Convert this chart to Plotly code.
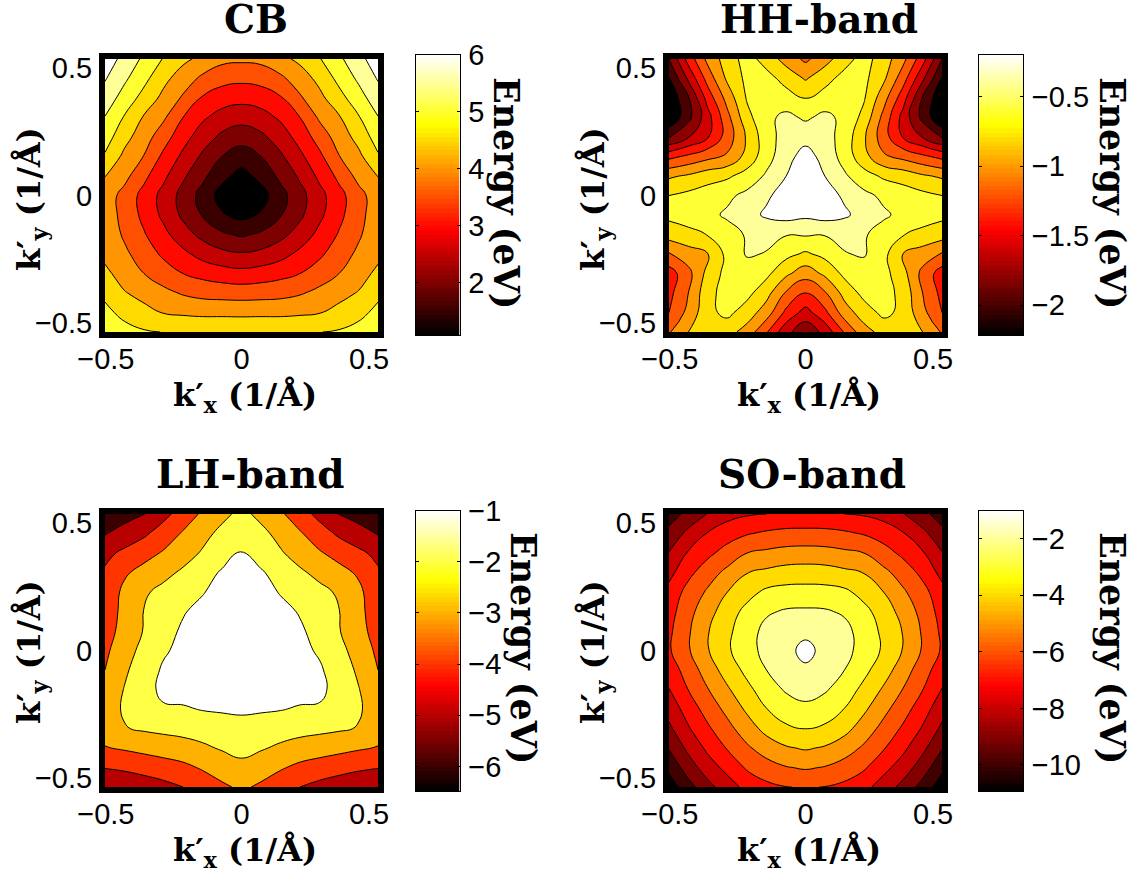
import plotly.graph_objects as go
import numpy as np

WIDTH, HEIGHT = 1137, 875

KX = [-0.535, -0.459, -0.382, -0.306, -0.229, -0.153, -0.076, 0.0,
      0.076, 0.153, 0.229, 0.306, 0.382, 0.459, 0.535]
KY = [0.535, 0.459, 0.382, 0.306, 0.229, 0.153, 0.076, 0.0,
      -0.076, -0.153, -0.229, -0.306, -0.382, -0.459, -0.535]

# Energies (eV): one row per KY, from kx = 0 out to kx = 0.535
# (the bands are mirror symmetric in kx).
CB_HALF = [
    [4.09, 4.13, 4.37, 4.61, 4.97, 5.40, 5.84, 6.28],
    [3.62, 3.68, 3.90, 4.26, 4.64, 5.14, 5.59, 6.04],
    [3.15, 3.23, 3.45, 3.93, 4.37, 4.82, 5.30, 5.78],
    [2.69, 2.80, 3.08, 3.50, 4.08, 4.45, 4.96, 5.48],
    [2.21, 2.39, 2.74, 3.19, 3.72, 4.22, 4.67, 5.23],
    [1.75, 2.00, 2.42, 2.89, 3.39, 3.98, 4.38, 4.94],
    [1.32, 1.64, 2.12, 2.58, 3.11, 3.62, 4.15, 4.51],
    [1.08, 1.30, 1.82, 2.33, 2.84, 3.33, 3.83, 4.27],
    [1.35, 1.55, 1.97, 2.40, 2.89, 3.37, 3.84, 4.28],
    [1.93, 2.08, 2.36, 2.71, 3.14, 3.54, 3.93, 4.33],
    [2.55, 2.63, 2.82, 3.12, 3.41, 3.76, 4.10, 4.38],
    [3.16, 3.23, 3.35, 3.50, 3.74, 4.00, 4.30, 4.61],
    [3.78, 3.80, 3.84, 3.95, 4.13, 4.35, 4.53, 4.87],
    [4.37, 4.38, 4.38, 4.42, 4.48, 4.64, 4.84, 5.15],
    [4.96, 4.96, 4.96, 4.98, 4.99, 5.05, 5.20, 5.45],
]
HH_HALF = [
    [-1.04, -0.88, -0.68, -0.52, -0.70, -0.94, -1.32, -1.80],
    [-0.82, -0.67, -0.53, -0.55, -0.76, -1.11, -1.56, -2.01],
    [-0.61, -0.52, -0.48, -0.58, -0.92, -1.31, -1.82, -2.16],
    [-0.43, -0.35, -0.45, -0.66, -1.06, -1.47, -1.86, -2.18],
    [-0.27, -0.32, -0.48, -0.77, -1.11, -1.41, -1.61, -1.82],
    [-0.12, -0.27, -0.48, -0.73, -0.97, -1.06, -1.16, -1.26],
    [-0.05, -0.20, -0.37, -0.52, -0.63, -0.68, -0.77, -0.83],
    [-0.03, -0.12, -0.23, -0.35, -0.44, -0.50, -0.55, -0.60],
    [-0.16, -0.12, -0.17, -0.27, -0.37, -0.45, -0.50, -0.55],
    [-0.38, -0.39, -0.35, -0.38, -0.48, -0.59, -0.66, -0.71],
    [-0.63, -0.54, -0.41, -0.38, -0.54, -0.80, -0.89, -1.02],
    [-0.91, -0.76, -0.55, -0.50, -0.53, -0.73, -1.06, -1.30],
    [-1.20, -1.02, -0.73, -0.54, -0.52, -0.66, -1.00, -1.26],
    [-1.48, -1.25, -0.90, -0.70, -0.55, -0.65, -0.94, -1.20],
    [-1.74, -1.54, -1.18, -0.88, -0.73, -0.68, -0.80, -1.02],
]
LH_HALF = [
    [-1.75, -2.25, -2.85, -3.55, -4.30, -5.03, -5.40, -5.70],
    [-1.36, -1.75, -2.30, -2.90, -3.55, -4.17, -4.60, -5.07],
    [-0.95, -1.40, -1.90, -2.40, -2.90, -3.36, -3.80, -4.25],
    [-0.60, -0.90, -1.37, -1.85, -2.27, -2.67, -3.15, -3.87],
    [-0.35, -0.60, -1.07, -1.40, -1.74, -2.13, -2.77, -3.70],
    [-0.10, -0.35, -0.70, -1.08, -1.53, -1.97, -2.75, -3.50],
    [0.00, -0.20, -0.55, -0.85, -1.37, -1.94, -2.70, -3.35],
    [0.00, -0.15, -0.45, -0.75, -1.12, -1.70, -2.41, -3.20],
    [0.00, -0.15, -0.40, -0.70, -0.88, -1.48, -2.16, -3.00],
    [-0.30, -0.35, -0.50, -0.65, -0.80, -1.33, -1.96, -2.70],
    [-0.87, -0.90, -0.95, -1.09, -1.10, -1.50, -1.90, -2.40],
    [-1.28, -1.39, -1.55, -1.67, -1.76, -1.88, -2.05, -2.60],
    [-1.73, -1.90, -2.17, -2.40, -2.57, -2.72, -2.89, -3.05],
    [-2.25, -2.59, -2.90, -3.23, -3.43, -3.63, -3.83, -3.96],
    [-2.85, -3.15, -3.60, -4.00, -4.30, -4.55, -4.75, -4.90],
]
SO_HALF = [
    [-6.80, -6.82, -7.00, -7.10, -7.35, -7.95, -8.69, -9.50],
    [-5.71, -5.73, -5.85, -6.08, -6.45, -6.93, -7.74, -8.68],
    [-4.60, -4.65, -4.81, -5.00, -5.60, -6.23, -6.90, -7.95],
    [-3.55, -3.60, -3.80, -4.03, -4.75, -5.44, -6.27, -7.31],
    [-2.63, -2.65, -2.80, -3.34, -4.00, -4.85, -5.65, -6.68],
    [-1.86, -1.90, -2.13, -2.72, -3.46, -4.37, -5.32, -6.40],
    [-1.25, -1.40, -1.72, -2.41, -3.22, -4.05, -5.12, -6.20],
    [-0.70, -1.30, -1.72, -2.35, -3.15, -4.05, -5.10, -6.12],
    [-1.17, -1.50, -2.00, -2.74, -3.55, -4.50, -5.55, -6.55],
    [-1.65, -1.88, -2.50, -3.25, -4.13, -5.03, -5.98, -7.03],
    [-2.22, -2.53, -3.02, -3.82, -4.72, -5.57, -6.55, -7.62],
    [-2.97, -3.15, -3.68, -4.47, -5.30, -6.15, -7.10, -8.20],
    [-3.90, -4.10, -4.55, -5.15, -5.92, -6.77, -7.75, -8.93],
    [-4.90, -5.06, -5.40, -5.87, -6.70, -7.47, -8.50, -9.75],
    [-5.95, -6.02, -6.25, -6.70, -7.47, -8.31, -9.38, -10.55],
]

# First entry: colour-bar value of the band below the lowest contour; rest: contour levels.
CB_LEVELS = [1.08, 1.5, 2.0, 2.5, 3.0, 3.5, 4.0, 4.5, 5.0, 5.5, 6.0]
HH_LEVELS = [-2.216, -2.0, -1.8, -1.6, -1.4, -1.2, -1.0, -0.8, -0.6, -0.4, -0.2]
LH_LEVELS = [-6, -5, -4, -3, -2, -1]
SO_LEVELS = [-10.92, -10, -9, -8, -7, -6, -5, -4, -3, -2, -1]

CB_RANGE = [1.08, 6.0]
HH_RANGE = [-2.216, -0.2]
LH_RANGE = [-6.48, -1.0]
SO_RANGE = [-10.92, -1.0]

CB_TICKS = [2, 3, 4, 5, 6]
HH_TICKS = [-2, -1.5, -1, -0.5]
LH_TICKS = [-6, -5, -4, -3, -2, -1]
SO_TICKS = [-10, -8, -6, -4, -2]

K_TICKS = [-0.5, 0, 0.5]
K_TICKTEXT_X = ["\u22120.5\u00a0\u00a0", "0", "0.5"]
K_TICKTEXT_Y = ["\u22120.5", "0", "0.5"]

TITLES = ["CB", "HH-band", "LH-band", "SO-band"]
XLABEL = "<b>k\u2032<sub>x</sub> (1/\u00c5)</b>"
YLABEL = "<b>k\u2032<sub>y</sub> (1/\u00c5)</b>"
CLABEL = "<b>Energy (eV)</b>"

SANS = "Liberation Sans"
SERIF = "DejaVu Serif"
TICK_SIZE = 29

# inner plot box and colour-bar box, pixels: left, right, top, bottom
BOXES = [
    dict(plot=(105, 378, 59, 332), bar=(415.5, 459.5, 55, 335), title=(256, 19), xl=(245, 397),
         yl=(31, 199), cl=(507, 193)),
    dict(plot=(669, 942, 59, 332), bar=(979, 1023, 55, 335), title=(819, 19), xl=(809, 397),
         yl=(595, 199), cl=(1113, 193)),
    dict(plot=(105, 378, 514, 787), bar=(415.5, 459.5, 510.5, 791), title=(250, 474), xl=(245, 852),
         yl=(31, 652), cl=(524, 648)),
    dict(plot=(669, 942, 514, 787), bar=(979, 1023, 510.5, 791), title=(812, 474), xl=(809, 852),
         yl=(595, 652), cl=(1113, 648)),
]


def hot(x):
    r = min(1.0, x / 0.375)
    g = min(1.0, max(0.0, (x - 0.375) / 0.375))
    b = min(1.0, max(0.0, (x - 0.75) / 0.25))
    return f"rgb({round(255*r)},{round(255*g)},{round(255*b)})"


HOT_SCALE = [[0, hot(0)], [0.375, hot(0.375)], [0.75, hot(0.75)], [1, hot(1)]]


def px_x(p):
    return p / WIDTH


def px_y(p):
    return 1 - p / HEIGHT


def full_rows(half):
    return [row[:0:-1] + row for row in half]


fig = go.Figure()
layout = {}
annotations = []

panels = [
    (CB_HALF, CB_LEVELS, CB_RANGE, CB_TICKS),
    (HH_HALF, HH_LEVELS, HH_RANGE, HH_TICKS),
    (LH_HALF, LH_LEVELS, LH_RANGE, LH_TICKS),
    (SO_HALF, SO_LEVELS, SO_RANGE, SO_TICKS),
]

for i, (half, levels, vrange, cticks) in enumerate(panels):
    box = BOXES[i]
    n = len(levels) - 1
    scale = [[j / n, hot((lv - vrange[0]) / (vrange[1] - vrange[0]))] for j, lv in enumerate(levels)]
    xa, ya = f"x{2*i+1}", f"y{2*i+1}"
    xb, yb = f"x{2*i+2}", f"y{2*i+2}"

    fig.add_trace(go.Contour(
        x=KX, y=KY, z=full_rows(half), xaxis=xa, yaxis=ya, showscale=False,
        colorscale=scale, autocontour=False, hoverinfo="skip",
        contours=dict(start=levels[1], end=levels[-1], size=levels[2] - levels[1],
                      coloring="fill", showlines=True),
        line=dict(color="black", width=1, smoothing=1.3),
    ))

    bar_vals = np.linspace(vrange[0], vrange[1], 64)
    fig.add_trace(go.Heatmap(
        x=[0], y=bar_vals, z=[[v] for v in bar_vals], xaxis=xb, yaxis=yb, showscale=False,
        colorscale=HOT_SCALE, zmin=vrange[0], zmax=vrange[1], hoverinfo="skip",
    ))

    l, r, t, b = box["plot"]
    layout[f"xaxis{2*i+1}"] = dict(
        domain=[px_x(l), px_x(r)], anchor=ya, range=[KX[0], KX[-1]], tickmode="array",
        tickvals=K_TICKS, ticktext=K_TICKTEXT_X, ticks="", showgrid=False, zeroline=False,
        showline=True, linecolor="black", linewidth=6, mirror=True, ticklabelstandoff=-4,
        automargin=False, tickfont=dict(family=SANS, size=TICK_SIZE, color="black"),
    )
    layout[f"yaxis{2*i+1}"] = dict(
        domain=[px_y(b), px_y(t)], anchor=xa, range=[KY[-1], KY[0]], tickmode="array",
        tickvals=K_TICKS, ticktext=K_TICKTEXT_Y, ticks="", showgrid=False, zeroline=False,
        showline=True, linecolor="black", linewidth=6, mirror=True, ticklabelstandoff=1,
        automargin=False, tickfont=dict(family=SANS, size=TICK_SIZE, color="black"),
    )

    l, r, t, b = box["bar"]
    layout[f"xaxis{2*i+2}"] = dict(
        domain=[px_x(l), px_x(r)], anchor=yb, range=[-0.5, 0.5], showticklabels=False,
        ticks="", showgrid=False, zeroline=False, showline=True, linecolor="black",
        linewidth=1, mirror=True, automargin=False,
    )
    layout[f"yaxis{2*i+2}"] = dict(
        domain=[px_y(b), px_y(t)], anchor=xb, range=vrange, side="right", tickmode="array",
        tickvals=cticks, ticks="inside", ticklen=3, tickcolor="black", showgrid=False,
        zeroline=False, showline=True, linecolor="black", linewidth=1, mirror="ticks",
        ticklabelstandoff=2, automargin=False,
        tickfont=dict(family=SANS, size=TICK_SIZE, color="black"),
    )

    for key, text, size, angle in [
        ("title", f"<b>{TITLES[i]}</b>", 39, 0),
        ("xl", XLABEL, 32, 0),
        ("yl", YLABEL, 32, -90),
        ("cl", CLABEL, 35, 90),
    ]:
        px, py = box[key]
        annotations.append(dict(
            x=px_x(px), y=px_y(py), xref="paper", yref="paper", text=text, showarrow=False,
            xanchor="center", yanchor="middle", textangle=angle,
            font=dict(family=SERIF, size=size, color="black"),
        ))

fig.update_layout(
    width=WIDTH, height=HEIGHT, margin=dict(l=0, r=0, t=0, b=0), showlegend=False,
    paper_bgcolor="white", plot_bgcolor="white", annotations=annotations, **layout,
)

fig.write_html("out.html", post_script="document.body.style.margin='0';",
               config={"displayModeBar": False})
